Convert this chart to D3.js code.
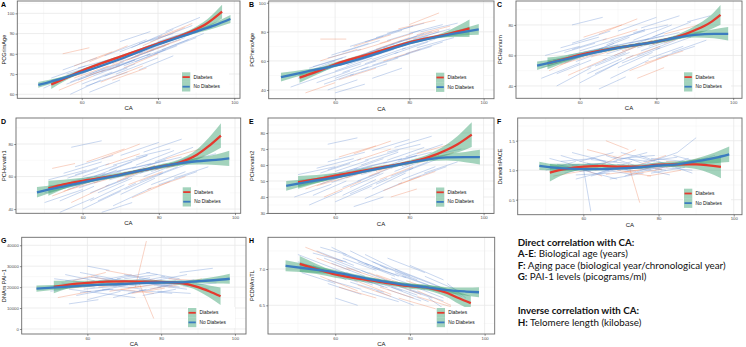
<!DOCTYPE html>
<html>
<head>
<meta charset="utf-8">
<script src="https://cdn.jsdelivr.net/npm/d3@7"></script>
<style>
  body { margin: 0; background: #fff; }
  svg { display: block; font-family: "Liberation Sans", Arial, sans-serif; }
</style>
</head>
<body>
<div id="chart"></div>
<script>
const W = 746, H = 347;

// smooth fits: [CA, fitted value, half-width of the band]
const redA = [[52,64.8,2.2],[56,68.2,1.2],[60,71.6,0.8],[70,78.5,0.6],[80,85.1,0.6],[88,90.4,1.0],[93,95.2,2.0],[96.8,100.8,3.4]];
const blueA = [[48.6,64.6,1.4],[55,67.9,0.8],[60,70.8,0.5],[70,77.3,0.4],[80,84.6,0.4],[90,91,0.8],[95,94.2,1.4],[99,97.2,2.0]];
const redB = [[50.4,48.5,3.6],[55,52.6,2.2],[60,57.7,1.3],[70,65.2,1.0],[80,72.8,1.0],[90,78.3,2.0],[96.2,82.4,6.0]];
const blueB = [[45.4,48.8,3.0],[52,52.5,1.6],[60,56.7,0.9],[70,64,0.7],[80,72.1,0.7],[90,77.8,1.3],[98.7,81.7,3.7]];
const redC = [[51.6,54.8,3.8],[56,57.6,2.4],[60,60.3,1.6],[70,65.1,1.2],[80,69.1,1.2],[85,71.8,1.5],[90,76.5,2.8],[94,81.5,4.5],[96.7,86.6,6.5]];
const blueC = [[48.9,53.3,2.8],[55,56.7,1.5],[60,59.7,1.0],[70,65,0.8],[80,69,0.8],[85,71.6,1.1],[90,73.5,1.8],[95,74.2,3.0],[98.7,74.2,4.4]];
const redD = [[51,52.8,4.6],[55,55.2,2.8],[60,57.4,1.8],[70,61.2,1.3],[80,66,1.3],[85,68.3,1.8],[90,73.4,3.2],[93,78.5,5.0],[96.3,85.2,7.5]];
const blueD = [[48,50.3,3.2],[54,53.5,1.8],[60,56.4,1.1],[70,61.1,0.9],[80,66,0.9],[85,68,1.2],[90,69.4,2.0],[95,70.3,3.2],[98.5,71.2,4.7]];
const redE = [[50,49.2,4.0],[55,51.2,2.6],[60,53.3,1.7],[70,57.5,1.2],[80,61.8,1.2],[85,64.8,1.8],[90,69.4,3.4],[93,73,5.2],[96.8,79,7.7]];
const blueE = [[46.8,47,3.0],[53,49.6,1.8],[60,52.3,1.1],[70,57,0.8],[80,61.5,0.8],[85,63.6,1.2],[90,64.8,2.0],[95,65,3.2],[99,64.9,4.6]];
const redF = [[51.1,0.96,0.15],[55,1.02,0.09],[60,1.06,0.05],[65,1.072,0.04],[70,1.06,0.035],[75,1.06,0.035],[80,1.095,0.04],[85,1.1,0.05],[90,1.1,0.08],[96.6,1.055,0.19]];
const blueF = [[48.3,1.075,0.07],[55,1.03,0.04],[60,1.02,0.025],[65,1.02,0.02],[70,1.03,0.02],[75,1.05,0.02],[80,1.08,0.02],[85,1.1,0.03],[90,1.15,0.05],[95,1.21,0.09],[98.8,1.27,0.13]];
const redG = [[50.9,20100,3000],[55,21200,1800],[60,22000,1100],[70,22700,800],[80,22500,800],[85,22000,1000],[90,20000,1800],[93,18000,2800],[96.1,15600,4200]];
const blueG = [[46.2,19300,1500],[55,20200,900],[60,20800,600],[70,21500,500],[80,22200,500],[85,22300,700],[90,22800,1000],[95,23400,1700],[98.6,24000,2400]];
const redH = [[50.5,7.07,0.11],[55,7.0,0.07],[60,6.925,0.045],[70,6.84,0.035],[80,6.765,0.035],[85,6.74,0.04],[90,6.67,0.06],[93,6.6,0.08],[96.3,6.53,0.1]];
const blueH = [[46.7,7.045,0.075],[55,6.99,0.045],[60,6.955,0.03],[70,6.855,0.025],[80,6.775,0.025],[85,6.745,0.03],[90,6.71,0.04],[95,6.69,0.055],[98.5,6.68,0.07]];

// individual trajectories: [CA start, value start, CA end, value end, group] (0 = diabetes, 1 = no diabetes)
const spagA = [[50,63,58,70,1],[52,68,61,74,1],[54,62,63,69,0],[55,72,64,78,1],[56,65,66,72,1],[57,60,65,67,1],[58,74,68,81,0],[59,67,70,75,1],[60,70,71,79,1],[61,64,72,71,1],[62,76,72,84,0],[63,69,74,77,1],[64,73,75,81,1],[65,66,76,74,0],[66,79,77,87,1],[67,72,78,80,1],[68,75,79,84,0],[69,70,80,78,1],[70,81,81,89,1],[71,74,82,82,1],[72,77,83,85,0],[73,83,84,92,1],[74,76,85,84,1],[75,80,86,89,1],[76,84,87,93,0],[77,79,88,87,1],[78,86,89,94,1],[79,80,90,88,1],[80,88,89,95,0],[81,82,92,90,1],[55,80,62,83,0],[70,86,78,91,1],[62,61,70,67,1],[75,72,84,79,1],[82,91,91,98,1],[68,67,77,73,0],
  [53,66,62,72,1],[56,70,65,75,1],[58,68,67,74,0],[60,72,69,78,1],[62,70,71,76,1],[64,74,73,80,1],[66,73,75,79,0],[68,77,77,83,1],[70,76,79,82,1],[72,80,81,86,1],[74,79,83,85,0],[76,83,85,89,1],[78,82,87,88,1],[80,86,88,91,1],[57,66,66,73,1],[61,69,70,74,0],[65,71,74,77,1],[69,74,78,80,1],[73,78,82,84,1],[77,81,86,87,0],[59,73,67,77,1],[63,67,72,73,1],[67,76,76,81,1],[71,73,80,80,0],[75,85,84,90,1],[79,84,88,90,1],[84,88,92,94,1],[60,65,68,71,1],[54,67,60,70,0],[66,69,74,75,1]];
const spagB = [[48,42,57,50,1],[50,50,60,60,1],[52,38,60,45,0],[53,55,62,62,1],[55,45,64,53,1],[56,60,66,68,0],[57,50,67,58,1],[58,40,66,47,1],[59,64,69,72,1],[60,53,70,62,1],[61,47,71,55,0],[62,66,72,74,1],[63,57,73,66,1],[64,50,74,58,1],[65,70,75,78,0],[66,60,76,68,1],[67,54,77,62,1],[68,73,78,81,1],[69,63,79,71,0],[70,57,80,65,1],[71,76,81,84,1],[72,66,82,74,1],[73,60,83,68,0],[74,79,84,86,1],[75,69,85,77,1],[76,62,86,70,1],[77,82,87,88,0],[78,72,88,80,1],[79,65,89,73,1],[80,85,88,93,0],[81,75,91,82,1],[82,69,92,76,1],[56,75,63,75,0],[83,80,93,86,1],[60,38,68,44,1],[70,48,78,55,1],
  [50,48,59,55,1],[53,50,62,58,1],[55,53,64,60,0],[57,55,66,62,1],[59,56,68,64,1],[61,58,70,66,1],[63,61,72,68,0],[65,62,74,70,1],[67,64,76,72,1],[69,66,78,74,1],[71,68,80,76,0],[73,69,82,77,1],[75,71,84,79,1],[77,73,86,80,1],[79,74,88,81,0],[54,56,63,63,1],[58,62,67,68,1],[62,52,71,60,1],[66,67,75,74,0],[70,61,79,69,1],[74,74,83,81,1],[78,68,87,75,1],[82,78,91,84,0],[60,48,69,56,1],[64,70,73,77,1],[68,58,77,66,1],[72,72,81,79,0],[76,65,85,73,1],[80,79,89,85,1],[57,44,65,51,1]];
const spagC = [[50,45,60,55,1],[51,60,60,66,1],[52,50,62,62,0],[54,40,63,52,1],[55,65,65,72,1],[56,55,66,64,1],[57,47,67,58,0],[58,68,68,76,1],[59,58,69,68,1],[60,42,70,55,1],[61,72,71,80,0],[62,52,72,62,1],[63,62,73,72,1],[64,48,74,60,1],[65,74,75,84,0],[66,57,76,67,1],[67,67,77,77,1],[68,45,78,57,1],[69,60,79,70,0],[70,76,80,85,1],[71,55,81,65,1],[72,65,82,75,1],[73,50,83,60,0],[74,70,84,80,1],[75,60,85,70,1],[76,78,86,86,1],[77,55,87,63,0],[78,66,88,75,1],[79,72,89,82,1],[80,58,90,66,1],[82,68,92,76,0],[84,62,93,70,1],[58,80,66,85,1],[65,38,72,46,1],[75,45,82,52,0],[88,82,94,86,1],
  [50,52,59,58,1],[53,57,62,62,1],[55,54,64,61,0],[57,60,66,65,1],[59,56,68,64,1],[61,62,70,67,1],[63,59,72,66,0],[65,64,74,69,1],[67,61,76,68,1],[69,66,78,71,1],[71,63,80,70,0],[73,68,82,73,1],[75,65,84,72,1],[77,70,86,75,1],[79,67,88,74,0],[54,48,63,57,1],[58,64,67,71,1],[62,48,71,58,1],[66,70,75,77,0],[70,52,79,62,1],[74,75,83,80,1],[78,58,87,66,1],[82,74,91,80,0],[60,63,69,70,1],[64,53,73,62,1],[68,70,77,76,1],[72,58,81,66,0],[76,63,85,71,1],[80,64,89,72,1],[56,62,64,68,1]];
const spagD = [[50,44,60,52,1],[51,58,61,64,1],[52,48,62,57,0],[54,38,63,47,1],[55,62,65,69,1],[56,52,66,60,1],[57,44,67,55,0],[58,66,68,73,1],[59,55,69,64,1],[60,40,70,51,1],[61,69,71,77,0],[62,50,72,59,1],[63,60,73,69,1],[64,45,74,56,1],[65,71,75,80,0],[66,54,76,63,1],[67,64,77,73,1],[68,42,78,53,1],[69,57,79,67,0],[70,73,80,81,1],[71,52,81,62,1],[72,62,82,71,1],[73,47,83,57,0],[74,67,84,76,1],[75,57,85,66,1],[76,75,86,83,1],[77,52,87,60,0],[78,63,88,72,1],[79,69,89,78,1],[80,55,90,63,1],[82,65,92,73,0],[84,59,93,66,1],[57,78,65,82,1],[88,70,95,74,1],[65,38,73,44,1],[52,65,58,68,0],
  [50,50,59,55,1],[53,54,62,59,1],[55,51,64,57,0],[57,57,66,62,1],[59,53,68,60,1],[61,59,70,63,1],[63,56,72,62,0],[65,61,74,66,1],[67,58,76,64,1],[69,63,78,68,1],[71,60,80,66,0],[73,65,82,70,1],[75,62,84,68,1],[77,67,86,72,1],[79,64,88,70,0],[54,45,63,54,1],[58,61,67,68,1],[62,45,71,55,1],[66,67,75,74,0],[70,49,79,59,1],[74,72,83,77,1],[78,55,87,63,1],[82,71,91,77,0],[60,60,69,67,1],[64,50,73,59,1],[68,67,77,73,1],[72,55,81,63,0],[76,60,85,68,1],[80,61,89,69,1],[56,59,64,65,1]];
const spagE = [[49,40,59,48,1],[50,54,60,59,1],[52,45,62,53,0],[53,35,62,44,1],[55,58,65,64,1],[56,48,66,56,1],[57,40,67,50,0],[58,62,68,68,1],[59,51,69,59,1],[60,37,70,47,1],[61,65,71,72,0],[62,46,72,55,1],[63,56,73,64,1],[64,42,74,52,1],[65,67,75,75,0],[66,50,76,59,1],[67,60,77,68,1],[68,39,78,49,1],[69,53,79,62,0],[70,69,80,76,1],[71,48,81,58,1],[72,58,82,66,1],[73,44,83,53,0],[74,63,84,71,1],[75,53,85,62,1],[76,71,86,78,1],[77,48,87,56,0],[78,59,88,67,1],[79,65,89,73,1],[80,51,90,59,1],[82,61,92,68,0],[84,55,93,62,1],[58,73,66,77,1],[86,66,94,70,1],[65,34,73,40,1],[75,40,82,45,0],
  [50,47,59,52,1],[53,50,62,55,1],[55,47,64,53,0],[57,53,66,58,1],[59,49,68,56,1],[61,55,70,59,1],[63,52,72,58,0],[65,57,74,62,1],[67,54,76,60,1],[69,59,78,64,1],[71,56,80,62,0],[73,61,82,66,1],[75,58,84,64,1],[77,63,86,68,1],[79,60,88,66,0],[54,41,63,50,1],[58,57,67,64,1],[62,41,71,51,1],[66,63,75,70,0],[70,45,79,55,1],[74,68,83,73,1],[78,51,87,59,1],[82,67,91,73,0],[60,56,69,63,1],[64,46,73,55,1],[68,63,77,69,1],[72,51,81,59,0],[76,56,85,64,1],[80,57,89,65,1],[56,55,64,61,1]];
const spagF = [[50,1.0,58,1.15,1],[51,1.2,60,1.05,1],[52,0.9,61,1.0,0],[54,1.25,62,1.1,1],[55,0.95,64,1.1,1],[56,1.1,65,0.9,0],[57,1.3,66,1.15,1],[58,0.85,67,1.0,1],[59,1.15,68,1.3,1],[60,1.0,69,0.85,1],[61,1.35,70,1.2,0],[62,0.9,71,1.05,1],[63,1.2,72,1.0,1],[64,0.95,73,1.15,1],[65,1.1,74,1.35,0],[66,1.25,75,1.05,1],[67,0.85,76,0.95,1],[68,1.15,77,1.3,1],[69,1.0,78,0.9,0],[70,1.3,79,1.15,1],[71,0.9,80,1.1,1],[72,1.2,81,1.0,1],[73,1.05,82,1.25,0],[74,0.95,83,1.1,1],[75,1.25,84,1.05,1],[76,1.1,85,1.3,1],[77,0.9,86,1.0,0],[78,1.2,87,1.15,1],[79,1.0,88,1.2,1],[80,1.15,89,0.95,1],[82,1.05,91,1.2,0],[84,1.25,93,1.1,1],[60,1.05,62,0.3,1],[72,1.1,75,0.45,0],[85,1.3,90,1.55,1],[66,1.5,72,1.35,0],
  [50,1.05,59,1.1,1],[53,1.1,62,0.98,1],[55,1.0,64,1.05,0],[57,1.08,66,1.12,1],[59,0.98,68,1.04,1],[61,1.12,70,1.0,1],[63,1.0,72,1.08,0],[65,1.06,74,0.98,1],[67,1.02,76,1.1,1],[69,1.1,78,1.02,1],[71,0.97,80,1.06,0],[73,1.08,82,1.0,1],[75,1.0,84,1.12,1],[77,1.12,86,1.05,1],[79,1.03,88,1.1,0],[54,1.15,63,1.2,1],[58,0.92,67,0.95,1],[62,1.18,71,1.12,1],[66,0.93,75,1.0,0],[70,1.2,79,1.25,1],[74,1.05,83,0.92,1],[78,0.95,87,1.05,1],[82,1.15,91,1.1,0],[60,1.08,69,1.15,1],[64,1.02,73,0.93,1],[68,1.22,77,1.15,1],[72,0.92,81,1.02,0],[76,1.15,85,1.22,1],[80,1.05,89,1.0,1],[86,1.1,95,1.25,1]];
const spagG = [[50,18000,59,21000,1],[51,24000,60,22000,1],[52,15000,61,18000,0],[54,26000,62,23000,1],[55,19000,64,17000,1],[56,23000,65,27000,0],[57,16000,66,19000,1],[58,27000,67,24000,1],[59,20000,68,23000,1],[60,14000,69,18000,1],[61,25000,70,22000,0],[62,18000,71,21000,1],[63,23000,72,26000,1],[64,17000,73,15000,1],[65,28000,74,25000,0],[66,21000,75,19000,1],[67,15000,76,19000,1],[68,24000,77,27000,1],[69,19000,78,17000,0],[70,26000,79,23000,1],[71,17000,80,20000,1],[72,22000,81,25000,1],[73,20000,76,42000,0],[74,24000,83,21000,1],[75,16000,84,19000,1],[76,27000,85,24000,1],[77,19000,86,22000,0],[78,23000,87,26000,1],[79,18000,88,17000,1],[80,25000,89,22000,1],[82,20000,91,24000,0],[84,22000,93,19000,1],[74,22000,78,5000,0],[60,30000,66,28000,1],[85,27000,94,29000,1],[55,12000,63,14000,1],
  [50,20000,59,21500,1],[53,22000,62,20000,1],[55,19500,64,21000,0],[57,21500,66,23000,1],[59,19000,68,20500,1],[61,22500,70,21000,1],[63,20000,72,22000,0],[65,22000,74,20500,1],[67,20500,76,23000,1],[69,23000,78,21500,1],[71,19500,80,21500,0],[73,22500,82,20500,1],[75,20500,84,23000,1],[77,23500,86,21500,0],[79,20000,88,22500,1],[54,23000,63,25000,1],[58,17500,67,19000,1],[62,24500,71,23000,1],[66,18000,75,20500,0],[70,24000,79,26000,1],[74,18500,83,17000,1],[78,21000,87,19000,1],[82,24000,91,23000,0],[60,21500,69,24000,1],[64,19000,73,18000,1],[68,22000,77,24500,1],[72,17000,81,19500,0],[76,22000,85,20000,1],[80,21000,89,23500,1],[86,20500,95,22000,1]];
const spagH = [[50,7.2,60,7.0,1],[51,6.95,60,6.8,1],[52,7.3,62,7.1,0],[54,7.05,63,6.85,1],[55,7.25,65,7.05,1],[56,6.9,66,6.7,0],[57,7.15,67,6.95,1],[58,6.8,67,6.65,1],[59,7.3,69,7.05,1],[60,7.0,70,6.8,1],[61,6.75,71,6.6,0],[62,7.2,72,7.0,1],[63,6.95,73,6.75,1],[64,7.25,74,7.0,1],[65,6.85,75,6.65,0],[66,7.1,76,6.9,1],[67,6.7,77,6.55,1],[68,7.2,78,6.95,1],[69,6.95,79,6.75,0],[70,7.1,80,6.9,1],[71,6.7,81,6.5,1],[72,7.05,82,6.85,1],[73,6.85,83,6.65,0],[74,7.15,84,6.95,1],[75,6.75,85,6.55,1],[76,7.0,86,6.8,1],[77,6.6,87,6.45,0],[78,6.95,88,6.75,1],[79,6.8,89,6.6,1],[80,7.05,89,6.85,1],[82,6.7,91,6.5,0],[84,6.9,93,6.7,1],[56,7.3,63,7.2,1],[85,6.6,92,6.35,1],[60,6.6,66,6.5,1],[90,6.8,95,6.6,1],
  [50,7.1,59,6.95,1],[53,7.05,62,6.9,1],[55,7.15,64,6.98,0],[57,6.98,66,6.82,1],[59,7.08,68,6.9,1],[61,6.95,70,6.78,1],[63,7.02,72,6.86,0],[65,6.9,74,6.74,1],[67,6.98,76,6.8,1],[69,6.85,78,6.7,1],[71,6.92,80,6.76,0],[73,6.8,82,6.64,1],[75,6.88,84,6.72,1],[77,6.76,86,6.6,1],[79,6.84,88,6.68,0],[54,7.22,63,7.1,1],[58,6.85,67,6.72,1],[62,7.15,71,6.98,1],[66,6.78,75,6.62,0],[70,7.02,79,6.88,1],[74,6.72,83,6.56,1],[78,6.9,87,6.74,1],[82,6.62,91,6.48,0],[60,7.12,69,6.94,1],[64,6.82,73,6.68,1],[68,7.08,77,6.9,1],[72,6.75,81,6.6,0],[76,6.95,85,6.78,1],[80,6.72,89,6.56,1],[86,6.8,94,6.62,1]];

const xTicks = [60, 80, 100];
const xMinor = [50, 70, 90];
const groups = ["Diabetes", "No Diabetes"];

const notes = [
  ["Direct correlation with CA:", ""],
  ["A-E", ": Biological age (years)"],
  ["F:", " Aging pace (biological year/chronological year)"],
  ["G:", " PAI-1 levels (picograms/ml)"],
  ["Inverse correlation with CA:", ""],
  ["H:", " Telomere length (kilobase)"]
];

const red = "#e53a2f", blue = "#3b7cc0", bandFill = "#3fa472";
const spagColor = ["#f08a62", "#6d93d4"];

const panels = [
  { tag: "A", label: "PCGrimAge", frame: [17.3, 1, 240, 98.3], xDomain: [43.1, 101.5], yDomain: [58, 106.1], yTicks: [60, 70, 80, 90, 100], fmt: d3.format("d"), red: redA, blue: blueA, spag: spagA },
  { tag: "B", label: "PCPhenoAge", frame: [268.7, 1, 494, 98.7], xDomain: [42.1, 102.8], yDomain: [34, 101.2], yTicks: [40, 60, 80, 100], fmt: d3.format("d"), red: redB, blue: blueB, spag: spagB },
  { tag: "C", label: "PCHannum", frame: [516, 1, 742, 98.3], xDomain: [43.4, 102.3], yDomain: [31.9, 95.7], yTicks: [40, 60, 80], fmt: d3.format("d"), red: redC, blue: blueC, spag: spagC },
  { tag: "D", label: "PCHorvath1", frame: [16, 118, 240.7, 213.3], xDomain: [42.5, 101.5], yDomain: [37.4, 96], yTicks: [40, 60, 80], fmt: d3.format("d"), red: redD, blue: blueD, spag: spagD },
  { tag: "E", label: "PCHorvath2", frame: [268, 118, 494, 213.5], xDomain: [41.9, 102.8], yDomain: [29.7, 89.4], yTicks: [30, 40, 50, 60, 70, 80], fmt: d3.format("d"), red: redE, blue: blueE, spag: spagE },
  { tag: "F", label: "DunedinPACE", frame: [517.7, 118, 742, 214.7], xDomain: [42.55, 102.2], yDomain: [0.246, 1.885], yTicks: [0.5, 1.0, 1.5], fmt: d3.format(".1f"), red: redF, blue: blueF, spag: spagF },
  { tag: "G", label: "DNAm PAI−1", frame: [21.7, 237.3, 246, 334], xDomain: [42.2, 103], yDomain: [-2400, 43800], yTicks: [0, 10000, 20000, 30000, 40000], fmt: d3.format("d"), red: redG, blue: blueG, spag: spagG },
  { tag: "H", label: "PCDNAmTL", frame: [268, 237.3, 494.7, 334], xDomain: [42, 102.7], yDomain: [6.105, 7.437], yTicks: [6.5, 7.0], fmt: d3.format(".1f"), red: redH, blue: blueH, spag: spagH }
];

const svg = d3.select("#chart").append("svg")
  .attr("width", W)
  .attr("height", H);

function drawPanel(p) {
  const [x0, y0, x1, y1] = p.frame;
  const x = d3.scaleLinear().domain(p.xDomain).range([x0, x1]);
  const y = d3.scaleLinear().domain(p.yDomain).range([y1, y0]);
  const g = svg.append("g");

  g.append("clipPath").attr("id", "clip" + p.tag)
    .append("rect").attr("x", x0).attr("y", y0).attr("width", x1 - x0).attr("height", y1 - y0);

  // grid: minor halfway between majors, like ggplot
  const step = p.yTicks[1] - p.yTicks[0];
  const yMinor = [p.yTicks[0] - step / 2, ...p.yTicks.map(t => t + step / 2)]
    .filter(v => v > p.yDomain[0] && v < p.yDomain[1]);

  g.append("g").selectAll("line").data(xMinor).join("line")
    .attr("x1", d => x(d)).attr("x2", d => x(d)).attr("y1", y0).attr("y2", y1)
    .attr("stroke", "#f2f2f2").attr("stroke-width", 0.5);
  g.append("g").selectAll("line").data(yMinor).join("line")
    .attr("x1", x0).attr("x2", x1).attr("y1", d => y(d)).attr("y2", d => y(d))
    .attr("stroke", "#f2f2f2").attr("stroke-width", 0.5);
  g.append("g").selectAll("line").data(xTicks).join("line")
    .attr("x1", d => x(d)).attr("x2", d => x(d)).attr("y1", y0).attr("y2", y1)
    .attr("stroke", "#e8e8e8").attr("stroke-width", 0.8);
  g.append("g").selectAll("line").data(p.yTicks).join("line")
    .attr("x1", x0).attr("x2", x1).attr("y1", d => y(d)).attr("y2", d => y(d))
    .attr("stroke", "#e8e8e8").attr("stroke-width", 0.8);

  const plot = g.append("g").attr("clip-path", `url(#clip${p.tag})`);

  plot.append("g").selectAll("line").data(p.spag).join("line")
    .attr("x1", d => x(d[0])).attr("y1", d => y(d[1]))
    .attr("x2", d => x(d[2])).attr("y2", d => y(d[3]))
    .attr("stroke", d => spagColor[d[4]])
    .attr("stroke-width", 0.65)
    .attr("stroke-opacity", 0.58);

  const area = d3.area()
    .x(d => x(d[0]))
    .y0(d => y(d[1] - d[2]))
    .y1(d => y(d[1] + d[2]))
    .curve(d3.curveMonotoneX);
  const line = d3.line()
    .x(d => x(d[0]))
    .y(d => y(d[1]))
    .curve(d3.curveMonotoneX);

  [p.red, p.blue].forEach(s => {
    plot.append("path").attr("d", area(s))
      .attr("fill", bandFill).attr("fill-opacity", 0.48);
  });
  [[p.red, red], [p.blue, blue]].forEach(([s, c]) => {
    plot.append("path").attr("d", line(s))
      .attr("fill", "none").attr("stroke", c).attr("stroke-width", 2.3);
  });

  g.append("rect").attr("x", x0).attr("y", y0).attr("width", x1 - x0).attr("height", y1 - y0)
    .attr("fill", "none").attr("stroke", "#6b6b6b").attr("stroke-width", 0.9);

  // axes
  const ax = g.append("g").attr("transform", `translate(0,${y1})`)
    .call(d3.axisBottom(x).tickValues(xTicks).tickSize(1.8).tickPadding(0.8));
  const ay = g.append("g").attr("transform", `translate(${x0},0)`)
    .call(d3.axisLeft(y).tickValues(p.yTicks).tickFormat(p.fmt).tickSize(1.8).tickPadding(1));
  [ax, ay].forEach(a => {
    a.select(".domain").remove();
    a.selectAll(".tick line").attr("stroke", "#444").attr("stroke-width", 0.6);
    a.selectAll(".tick text").attr("fill", "#4d4d4d").attr("font-size", 4.3)
      .attr("font-family", "Liberation Sans, Arial, sans-serif");
  });

  g.append("text")
    .attr("x", (x0 + x1) / 2).attr("y", y1 + 12)
    .attr("text-anchor", "middle")
    .attr("font-size", 6).attr("fill", "#111")
    .text("CA");

  const cellX = x0 < 200 ? 0 : x0 < 500 ? 248 : 496;
  g.append("text")
    .attr("transform", `translate(${cellX + 6},${(y0 + y1) / 2}) rotate(-90)`)
    .attr("text-anchor", "middle")
    .attr("font-size", 5.6).attr("fill", "#111")
    .text(p.label);

  g.append("text")
    .attr("x", cellX + 1).attr("y", y0 + 6)
    .attr("font-size", 7).attr("font-weight", "bold")
    .text(p.tag);

  // legend
  const lx = x1 - 58, ly = y1 - 26;
  const leg = g.append("g").attr("transform", `translate(${lx},${ly})`);
  leg.append("rect").attr("x", -1).attr("y", -1).attr("width", 48).attr("height", 21).attr("fill", "#fff");
  groups.forEach((name, i) => {
    const row = leg.append("g").attr("transform", `translate(0,${i * 9.6})`);
    row.append("rect").attr("width", 8.3).attr("height", 9.6)
      .attr("fill", bandFill).attr("fill-opacity", 0.48);
    row.append("line").attr("x1", 0.5).attr("x2", 7.8).attr("y1", 4.8).attr("y2", 4.8)
      .attr("stroke", i === 0 ? red : blue).attr("stroke-width", 1.8);
    row.append("text").attr("x", 11.5).attr("y", 6.4)
      .attr("font-size", 4.8).attr("fill", "#111").text(name);
  });
}

panels.forEach(drawPanel);

// explanatory note in the last cell
const noteY = [246, 257, 268.5, 279.5, 314, 325.5];
const note = svg.append("g").attr("font-family", "Lato, 'Open Sans', sans-serif").attr("font-size", 9.8).attr("fill", "#111");
notes.forEach(([b, rest], i) => {
  const t = note.append("text").attr("x", 517.7).attr("y", noteY[i]);
  t.append("tspan").attr("font-weight", "bold").text(b);
  if (rest) t.append("tspan").text(rest);
});
</script>
</body>
</html>
